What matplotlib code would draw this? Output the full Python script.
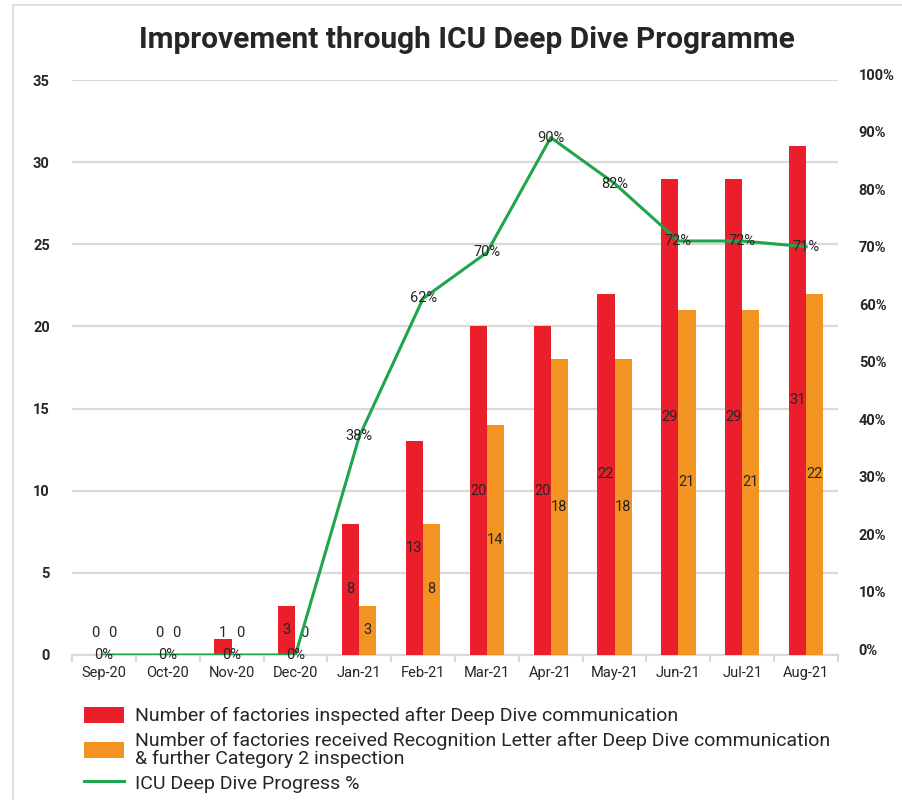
import matplotlib
matplotlib.use("Agg")
import matplotlib.pyplot as plt
from matplotlib.patches import Rectangle
import matplotlib.transforms as mtransforms
import numpy as np

months = ["Sep-20", "Oct-20", "Nov-20", "Dec-20", "Jan-21", "Feb-21", "Mar-21",
          "Apr-21", "May-21", "Jun-21", "Jul-21", "Aug-21"]
inspected = [0, 0, 1, 3, 8, 13, 20, 20, 22, 29, 29, 31]
recognised = [0, 0, 0, 0, 3, 8, 14, 18, 18, 21, 21, 22]
progress = [0, 0, 0, 0, 38, 62, 70, 90, 82, 72, 72, 71]
left_ticks = [0, 5, 10, 15, 20, 25, 30, 35]
right_ticks = [0, 10, 20, 30, 40, 50, 60, 70, 80, 90, 100]

RED = "#ea1f2b"
ORANGE = "#f39322"
GREEN = "#1fa54b"
TXT = "#262626"

plt.rcParams['font.family'] = ['Roboto', 'DejaVu Sans']

fig = plt.figure(figsize=(9.02, 8.0), dpi=100)
W, H = 902, 800
ax = fig.add_axes([72 / W, 1 - 655 / H, (838 - 72) / W, (655 - 80) / H])
ax2 = ax.twinx()

x = np.arange(len(months))
bw = 0.27
ax.bar(x - bw / 2, inspected, width=bw, color=RED, zorder=3,
       label="Number of factories inspected after Deep Dive communication")
ax.bar(x + bw / 2, recognised, width=bw, color=ORANGE, zorder=3,
       label="Number of factories received Recognition Letter after Deep Dive communication\n& further Category 2 inspection")

for i in range(len(months)):
    ax.text(x[i] - bw / 2, max(inspected[i] / 2, 1.35), str(inspected[i]),
            ha="center", va="center", fontsize=10.5, color=TXT, zorder=5)
    ax.text(x[i] + bw / 2, max(recognised[i] / 2, 1.35), str(recognised[i]),
            ha="center", va="center", fontsize=10.5, color=TXT, zorder=5)

ax.set_xlim(-0.5, len(months) - 0.5)
ax.set_ylim(0, 35)
ax.set_yticks(left_ticks)
ax.yaxis.grid(True, color="#d9d9d9", linewidth=1.6, zorder=0)
ax.set_axisbelow(True)
for s in ["top", "right", "left"]:
    ax.spines[s].set_visible(False)
ax.spines["bottom"].set_color("#d9d9d9")
ax.spines["bottom"].set_linewidth(1.6)
ax.set_xticks(x)
ax.set_xticklabels(months, fontsize=10.5, color=TXT)
ax.set_xticks(np.arange(-0.5, len(months), 1.0), minor=True)
ax.tick_params(axis="x", which="major", length=0, pad=8)
ax.tick_params(axis="x", which="minor", length=5, width=1.6, color="#d9d9d9")
ax.tick_params(axis="y", length=0, labelsize=10.5, labelcolor=TXT, pad=16)
for lb in ax.get_yticklabels():
    lb.set_fontweight("bold")

ax2.plot(x, progress, color=GREEN, linewidth=2.2, zorder=4,
         label="ICU Deep Dive Progress %")
ax2.set_ylim(0, 100)
ax2.set_yticks(right_ticks)
ax2.set_yticklabels([f"{v}%" for v in right_ticks])
ax2.tick_params(axis="y", length=0, labelsize=10.5, labelcolor=TXT, pad=15)
up = mtransforms.ScaledTranslation(0, 4 / 72, fig.dpi_scale_trans)
for lb in ax2.get_yticklabels():
    lb.set_fontweight("bold")
    lb.set_transform(lb.get_transform() + up)
for s in ["top", "right", "left", "bottom"]:
    ax2.spines[s].set_visible(False)
for i in range(len(months)):
    ax2.text(x[i], progress[i], f"{progress[i]}%", ha="center", va="center",
             fontsize=10.5, color=TXT, zorder=6)

fig.text(467 / W, 1 - 40 / H, "Improvement through ICU Deep Dive Programme",
         ha="center", va="center", fontsize=21.5, fontweight="bold", color=TXT)

h1, l1 = ax.get_legend_handles_labels()
h2, l2 = ax2.get_legend_handles_labels()
leg = fig.legend(h1 + h2, l1 + l2, loc="upper left",
                 bbox_to_anchor=(66 / W, 1 - 689 / H), frameon=False,
                 fontsize=14, handlelength=2.1, handleheight=0.9,
                 labelspacing=0.32, handletextpad=0.55)
for t in leg.get_texts():
    t.set_color(TXT)
    t.set_linespacing(1.0)

fig.patches.append(Rectangle((13 / W, -0.1), 1.0, 1 - 5 / H + 0.1,
                             transform=fig.transFigure, fill=False,
                             edgecolor="#d9d9d9", linewidth=1.2))

fig.savefig("out.png", dpi=100)
